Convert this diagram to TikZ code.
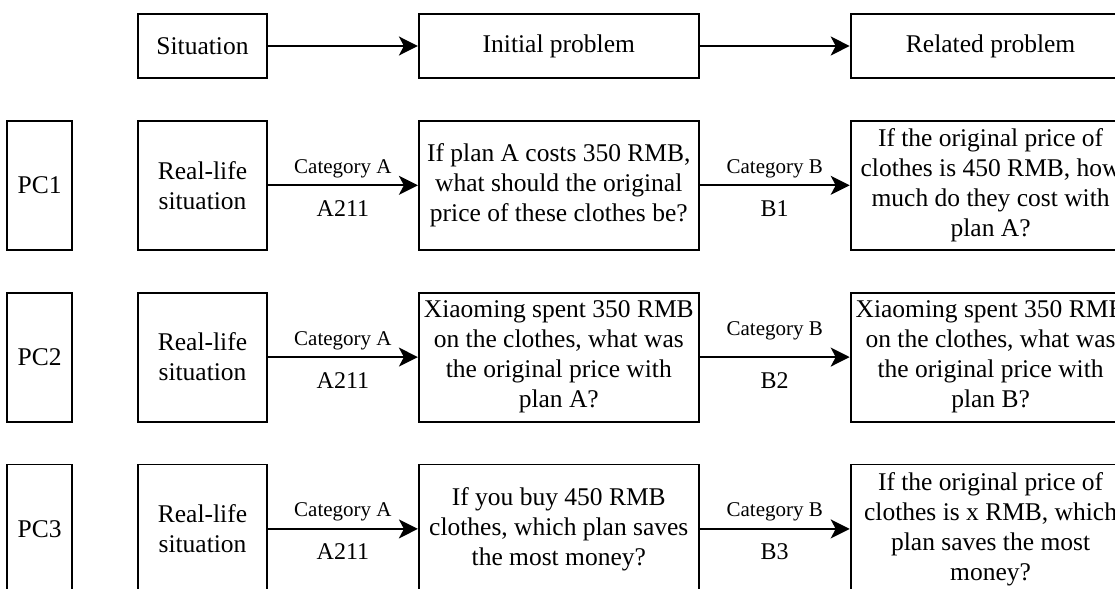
\documentclass[tikz,border=0pt]{standalone}
\usepackage{fontspec}
\setmainfont{Liberation Serif}
\usetikzlibrary{positioning,arrows.meta}
\tikzstyle{arrow} = [line width=0.9pt,-{Stealth[length=9.5pt,width=9.5pt,inset=2.5pt]}]
\tikzstyle{boxnode} = [rectangle, draw=black, line width=0.9pt, inner sep=1pt,
minimum height=32pt, align=center, anchor=center, font=\fontsize{12.75}{15}\selectfont]
\tikzstyle{sitnode} = [boxnode, minimum width=64.5pt]
\tikzstyle{probnode} = [boxnode, minimum width=140pt]
\tikzstyle{pcnode} = [boxnode, minimum width=32.5pt, minimum height=64.5pt]
\tikzstyle{tall} = [minimum height=64.5pt]
\tikzstyle{catlabel} = [anchor=base, inner sep=0pt, yshift=6pt, font=\fontsize{10.5}{12}\selectfont]
\tikzstyle{codelabel} = [anchor=base, inner sep=0pt, yshift=-15.5pt, font=\fontsize{12}{14}\selectfont]

\begin{document}
\begin{tikzpicture}[node distance=20.5pt]
      \useasboundingbox (0,0) rectangle (557.5pt,-294.5pt);
      \clip (0,0) rectangle (557.5pt,-294.5pt);

      \node (sit) [sitnode] at (101.25pt,-23pt) {Situation};
      \node (init) [probnode, right=75pt of sit] {Initial problem};
      \node (rel) [probnode, right=75pt of init] {Related problem};

      \node (real1) [sitnode, tall, below=of sit] {Real-life\\situation};
      \node (init1) [probnode, tall, below=of init] {If plan A costs 350 RMB,\\what should the original\\price of these clothes be?};
      \node (rel1) [probnode, tall, below=of rel] {If the original price of\\clothes is 450 RMB, how\\much do they cost with\\plan A?};
      \node (pc1) [pcnode, left=32pt of real1] {PC1};

      \node (real2) [sitnode, tall, below=of real1] {Real-life\\situation};
      \node (init2) [probnode, tall, below=of init1] {Xiaoming spent 350 RMB\\on the clothes, what was\\the original price with\\plan A?};
      \node (rel2) [probnode, tall, below=of rel1] {Xiaoming spent 350 RMB\\on the clothes, what was\\the original price with\\plan B?};
      \node (pc2) [pcnode, left=32pt of real2] {PC2};

      \node (real3) [sitnode, tall, below=of real2] {Real-life\\situation};
      \node (init3) [probnode, tall, below=of init2] {If you buy 450 RMB\\clothes, which plan saves\\the most money?};
      \node (rel3) [probnode, tall, below=of rel2] {If the original price of\\clothes is x RMB, which\\plan saves the most\\money?};
      \node (pc3) [pcnode, left=32pt of real3] {PC3};

      \draw [arrow] (sit) -- (init);
      \draw [arrow] (init) -- (rel);

      \draw [arrow] (real1) -- node[catlabel] {Category A} node[codelabel] {A211} (init1);
      \draw [arrow] (init1) -- node[catlabel] {Category B} node[codelabel] {B1} (rel1);
      \draw [arrow] (real2) -- node[catlabel] {Category A} node[codelabel] {A211} (init2);
      \draw [arrow] (init2) -- node[catlabel, yshift=5pt] {Category B} node[codelabel] {B2} (rel2);
      \draw [arrow] (real3) -- node[catlabel] {Category A} node[codelabel] {A211} (init3);
      \draw [arrow] (init3) -- node[catlabel] {Category B} node[codelabel] {B3} (rel3);
    \end{tikzpicture}
\end{document}
